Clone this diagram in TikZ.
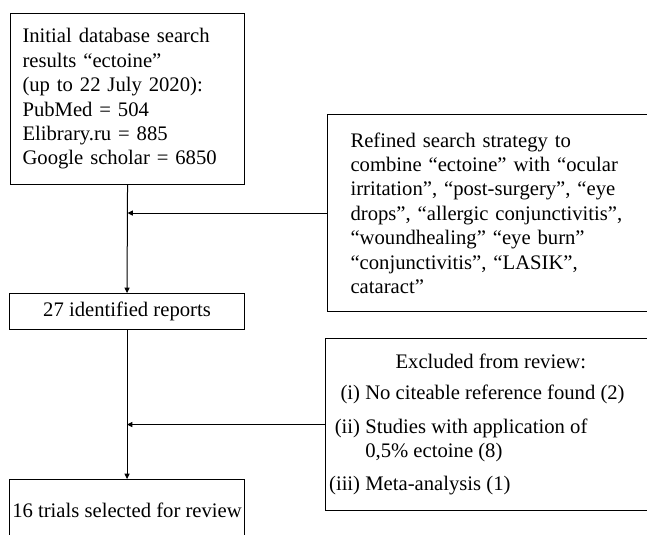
\documentclass[tikz,border=0pt]{standalone}
\usepackage{fontspec}
\setmainfont{Liberation Serif}
\usetikzlibrary{arrows.meta}

\begin{document}
\begin{tikzpicture}[x=0.75pt,y=-0.75pt,
        box/.style={draw,line width=0.8pt,inner sep=1pt,anchor=north west,font=\fontsize{15.5}{18.3}\selectfont},
        flow/.style={line width=0.75pt,-{Triangle[length=4pt,width=3.8pt]}}]
        \useasboundingbox (0,0) rectangle (647,535);
        \clip (0,0) rectangle (647,535);
        \node[box,align=left,text width=157.5pt,inner xsep=9pt,minimum height=128.25pt] (search) at (10,13)
            {Initial database search\\ results “ectoine”\\ (up to 22 July 2020):\\ PubMed = 504\\ Elibrary.ru = 885\\ Google scholar = 6850};
        \node[box,align=left,text width=235pt,inner xsep=17.25pt,minimum height=147.75pt] (refine) at (327,114)
            {Refined search strategy to\\ combine “ectoine” with “ocular\\ irritation”, “post-surgery”, “eye\\
             drops”, “allergic conjunctivitis”,\\ “woundhealing” “eye burn”\\ “conjunctivitis”, “LASIK”,\\ cataract”};
        \node[box,minimum width=176.25pt,minimum height=27pt] (ident) at (9,293) {27 identified reports};
        \node[box,minimum width=248pt,minimum height=129pt] (excl) at (325,338)
            {\begin{tabular}{@{}r@{\ }l@{\hspace{21pt}}}
                \multicolumn{2}{@{}c@{}}{Excluded from review:}\\[5pt]
                (i) & No citeable reference found (2)\\[7pt]
                (ii) & Studies with application of\\
                     & 0,5\% ectoine (8)\\[6pt]
                (iii) & Meta-analysis (1)
             \end{tabular}};
        \node[box,minimum width=176.25pt,minimum height=45.75pt] (trials) at (9,479) {16 trials selected for review};
        \draw[flow] (search.south) -- (ident.north);
        \draw[flow] (refine.west) -- (refine.west -| search.south);
        \draw[flow] (ident.south) -- (trials.north);
        \draw[flow] (excl.west) -- (excl.west -| ident.south);
    \end{tikzpicture}
\end{document}
